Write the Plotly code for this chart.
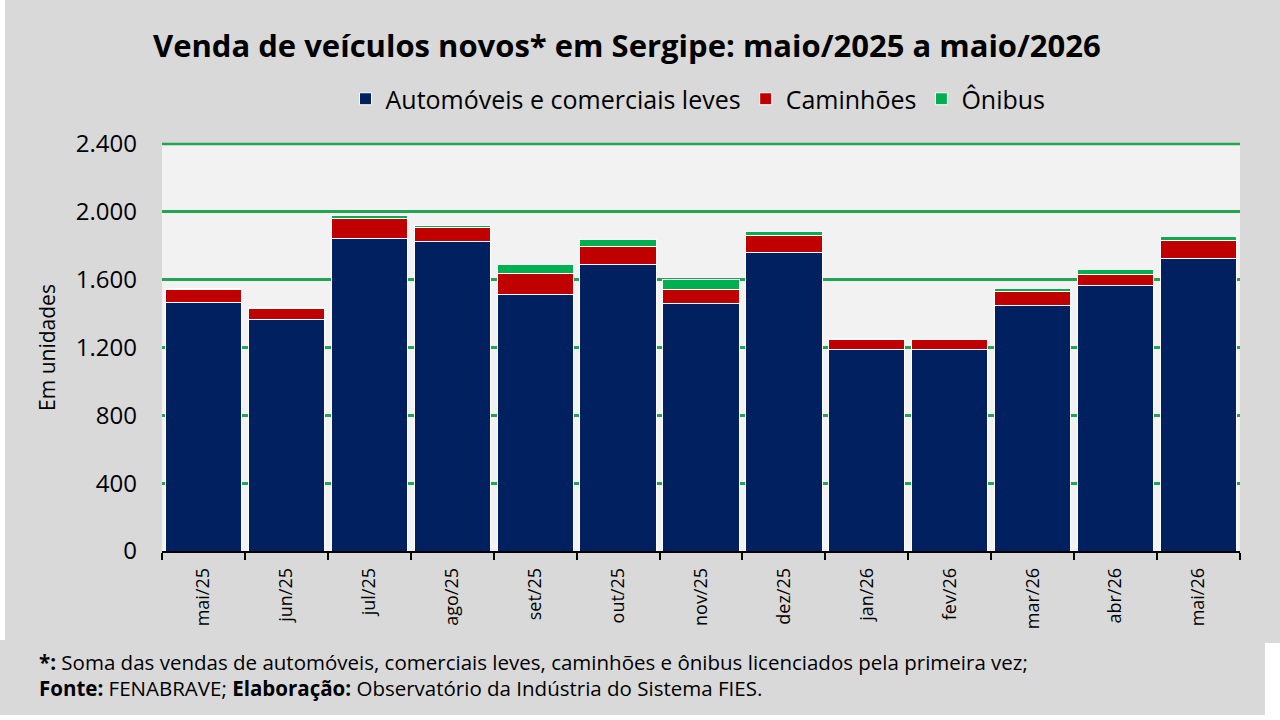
import plotly.graph_objects as go

meses = ["mai/25", "jun/25", "jul/25", "ago/25", "set/25", "out/25", "nov/25",
         "dez/25", "jan/26", "fev/26", "mar/26", "abr/26", "mai/26"]
automoveis = [1464, 1368, 1844, 1824, 1515, 1687, 1457, 1763, 1190, 1188, 1449, 1565, 1722]
caminhoes = [80, 62, 118, 83, 122, 108, 86, 95, 57, 58, 80, 68, 108]
onibus = [5, 5, 19, 11, 50, 43, 59, 25, 4, 4, 20, 26, 26]
y_ticks = [0, 400, 800, 1200, 1600, 2000, 2400]

series = [
    ("Automóveis e comerciais leves", automoveis, "#002060"),
    ("Caminhões", caminhoes, "#C00000"),
    ("Ônibus", onibus, "#00B050"),
]

fig = go.Figure()
for name, vals, color in series:
    fig.add_trace(go.Bar(
        x=meses, y=vals, name=name,
        marker=dict(color=color, line=dict(color="#FFFFFF", width=1)),
    ))

W, H = 1280, 720
L, R, T, B = 162, 40, 144, 169
pw = W - L - R
ph = H - T - B

def px_x(x):
    return (x - L) / pw

def px_y(y):
    return (H - B - y) / ph

GRID = "#22A552"

fig.update_layout(
    width=W, height=H,
    barmode="stack", bargap=0.08,
    separators=",.",
    paper_bgcolor="#D9D9D9", plot_bgcolor="#F2F2F2",
    margin=dict(l=L, r=R, t=T, b=B, autoexpand=False),
    font=dict(family="Open Sans", color="#000000"),
    showlegend=True,
    legend=dict(orientation="h", x=px_x(698), xanchor="center",
                y=px_y(99), yanchor="middle",
                font=dict(family="Open Sans", size=25, color="#000000"),
                bgcolor="rgba(0,0,0,0)", itemwidth=30, traceorder="normal"),
    xaxis=dict(type="category", showline=True, linecolor="#000000", linewidth=1.5,
               ticks="outside", tickson="boundaries", ticklen=7, tickcolor="#000000",
               tickwidth=1.5, tickangle=-90, showgrid=False, ticklabelstandoff=8,
               tickfont=dict(family="Open Sans", size=18, color="#000000")),
    yaxis=dict(range=[0, 2400], tickvals=y_ticks, tickformat=",d",
               showgrid=True, gridcolor=GRID, gridwidth=2.5,
               zeroline=False, showline=False, ticks="", ticklabelstandoff=24,
               tickfont=dict(family="Open Sans", size=24, color="#000000"),
               title=dict(text="Em unidades", standoff=14,
                          font=dict(family="Open Sans", size=21, color="#000000"))),
)

# top gridline at the upper edge of the plot area
fig.add_shape(type="line", xref="paper", yref="paper", x0=0, x1=1, y0=1, y1=1,
              line=dict(color=GRID, width=2.5), layer="below")

fig.add_annotation(
    text="<b>Venda de veículos novos* em Sergipe: maio/2025 a maio/2026</b>",
    xref="paper", yref="paper", x=px_x(627), y=px_y(45),
    xanchor="center", yanchor="middle", showarrow=False,
    font=dict(family="Open Sans", size=31, color="#000000"),
)
fig.add_annotation(
    text="<b>*:</b> Soma das vendas de automóveis, comerciais leves, caminhões e ônibus licenciados pela primeira vez;",
    xref="paper", yref="paper", x=px_x(37), y=px_y(662),
    xanchor="left", yanchor="middle", showarrow=False,
    font=dict(family="Open Sans", size=20.5, color="#000000"),
)
fig.add_annotation(
    text="<b>Fonte:</b> FENABRAVE; <b>Elaboração:</b> Observatório da Indústria do Sistema FIES.",
    xref="paper", yref="paper", x=px_x(37), y=px_y(688),
    xanchor="left", yanchor="middle", showarrow=False,
    font=dict(family="Open Sans", size=20.5, color="#000000"),
)

# white frame strips of the original image
fig.add_shape(type="rect", xref="paper", yref="paper", layer="below",
              x0=px_x(0), x1=px_x(5), y0=px_y(0), y1=px_y(640),
              fillcolor="#FFFFFF", line=dict(width=0))
fig.add_shape(type="rect", xref="paper", yref="paper", layer="below",
              x0=px_x(0), x1=px_x(1280), y0=px_y(715), y1=px_y(720),
              fillcolor="#FFFFFF", line=dict(width=0))
fig.add_shape(type="rect", xref="paper", yref="paper", layer="below",
              x0=px_x(1265), x1=px_x(1280), y0=px_y(643), y1=px_y(720),
              fillcolor="#FFFFFF", line=dict(width=0))

fig.write_html("out.html", config={"displayModeBar": False},
               post_script="document.body.style.margin='0';")
